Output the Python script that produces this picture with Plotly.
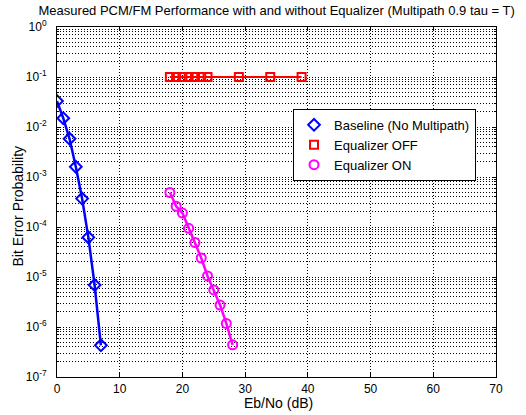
import plotly.graph_objects as go

ebno_base = [0, 1, 2, 3, 4, 5, 6, 7]
ber_base = [3.3e-2, 1.5e-2, 5.8e-3, 1.6e-3, 3.7e-4, 6.2e-5, 6.9e-6, 4.3e-7]

ebno_off = [18, 19, 20, 21, 22, 23, 24, 29, 34, 39]
ber_off = [0.1, 0.1, 0.1, 0.1, 0.1, 0.1, 0.1, 0.1, 0.1, 0.1]

ebno_on = [18, 19, 20, 21, 22, 23, 24, 25, 26, 27, 28]
ber_on = [4.9e-4, 2.6e-4, 1.9e-4, 9.4e-5, 4.9e-5, 2.4e-5, 1.05e-5, 5.5e-6, 2.75e-6, 1.18e-6, 4.4e-7]

series_names = ["Baseline (No Multipath)", "Equalizer OFF", "Equalizer ON"]
x_ticks = [0, 10, 20, 30, 40, 50, 60, 70]
y_exps = [0, -1, -2, -3, -4, -5, -6, -7]

font = "Liberation Sans, Arial, Helvetica, sans-serif"
colors = ["#0000ff", "#ff0000", "#ff00ff"]
symbols = ["diamond-open", "square-open", "circle-open"]
sizes = [9, 8, 9]

fig = go.Figure()
for xs, ys, c, s, sz, w in [(ebno_base, ber_base, colors[0], symbols[0], sizes[0], 2.5),
                            (ebno_off, ber_off, colors[1], symbols[1], sizes[1], 2),
                            (ebno_on, ber_on, colors[2], symbols[2], sizes[2], 2.5)]:
    fig.add_trace(go.Scatter(x=xs, y=ys, mode="lines+markers", showlegend=False,
                             line=dict(color=c, width=w),
                             marker=dict(symbol=s, size=sz, color=c, line=dict(width=2))))
# legend entries (markers only, as in the reference)
for name, c, s, sz in zip(series_names, colors, symbols, sizes):
    fig.add_trace(go.Scatter(x=[None], y=[None], mode="markers", name=name,
                             marker=dict(symbol=s, size=sz, color=c, line=dict(width=2))))

minor_vals = [m * 10.0 ** e for e in range(-7, 0) for m in range(2, 10)]

grid = dict(gridcolor="black", griddash="1px,2px", gridwidth=1)

fig.update_layout(
    width=526, height=415,
    margin=dict(l=57, r=30, t=27, b=38),
    paper_bgcolor="white", plot_bgcolor="white",
    font=dict(family=font, size=12, color="black"),
    title=dict(text="Measured PCM/FM Performance with and without Equalizer (Multipath 0.9 tau = T)",
               x=0.526, xanchor="center", y=0.985, yanchor="top", font=dict(size=13)),
    showlegend=True,
    legend=dict(x=0.5376, y=0.766, xanchor="left", yanchor="top",
                bordercolor="black", borderwidth=1, bgcolor="white",
                font=dict(size=13), itemwidth=30, tracegroupgap=0),
    xaxis=dict(range=[0, 70], tickvals=x_ticks, ticktext=[str(v) for v in x_ticks],
               showgrid=True, **grid, automargin=False,
               showline=True, linecolor="black", linewidth=1, mirror="allticks",
               ticks="inside", ticklen=4, tickcolor="black", zeroline=False,
               ticklabelstandoff=1),
    yaxis=dict(type="log", range=[-7, 0], tickvals=[10.0 ** e for e in y_exps],
               ticktext=["10<sup>%d</sup>" % e for e in y_exps],
               showgrid=True, **grid, automargin=False,
               showline=True, linecolor="black", linewidth=1, mirror="allticks",
               ticks="inside", ticklen=4, tickcolor="black", zeroline=False,
               ticklabelstandoff=7,
               minor=dict(tickmode="array", tickvals=minor_vals, showgrid=True,
                          ticks="inside", ticklen=2, tickcolor="black", **grid)),
    annotations=[
        dict(text="Eb/No (dB)", xref="paper", yref="paper", x=0.5046, y=-0.075,
             xanchor="center", yanchor="middle", showarrow=False, font=dict(size=14)),
        dict(text="Bit Error Probability", xref="paper", yref="paper", x=-0.0888, y=0.487,
             xanchor="center", yanchor="middle", textangle=-90, showarrow=False,
             font=dict(size=14)),
    ],
)

fig.write_html("out.html")
